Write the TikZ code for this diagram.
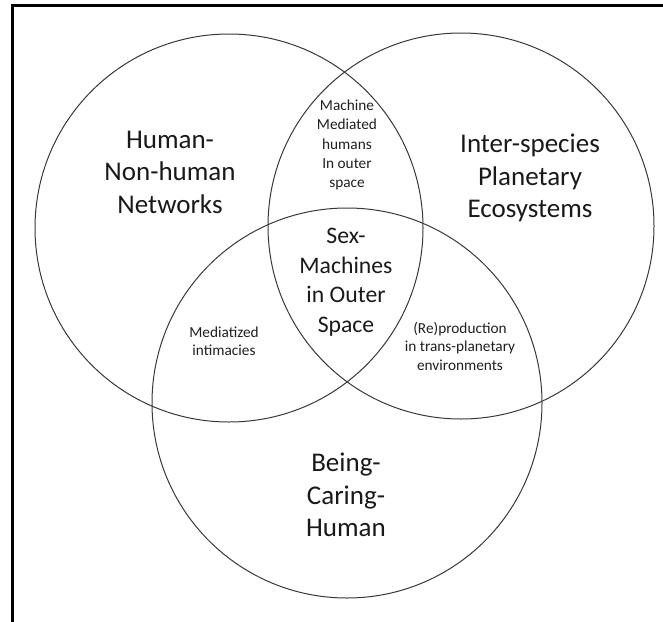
\documentclass[tikz,border=0pt]{standalone}
\usepackage{fontspec}
\setmainfont{Carlito}
\begin{document}
\begin{tikzpicture}[x=1pt,y=-1pt,
  ring/.style={circle, draw=black!78, line width=1pt, inner sep=0pt, outer sep=0pt},
  setlabel/.style={align=center, font=\fontsize{27}{32.5}\selectfont, text=black!90, inner sep=0pt},
  biglabel/.style={align=center, font=\fontsize{23.7}{29.5}\selectfont, text=black!90, inner sep=0pt},
  smalllabel/.style={align=center, font=\fontsize{15.3}{18.5}\selectfont, text=black!88, inner sep=0pt},
  frameline/.style={draw=black, line width=3pt, line join=miter}]
\useasboundingbox (0,0) rectangle (663,621);

% page frame (left and top edges)
\coordinate (frameBottom) at (12,625);
\coordinate (frameCorner) at (12,5);
\coordinate (frameRight) at (667,5);
\draw[frameline] (frameBottom) -- (frameCorner) -- (frameRight);

% the three sets
\node[ring, minimum size=388pt] (networks) at (229,228) {};
\node[ring, minimum size=386pt] (ecosystems) at (461,226) {};
\node[ring, minimum size=390pt] (caring) at (347,403) {};

% set labels
\node[setlabel] (networksLabel) at (170,172) {Human-\\Non-human\\Networks};
\node[setlabel] (ecosystemsLabel) at (530,178) {Inter-species\\Planetary\\Ecosystems};
\node[setlabel] (caringLabel) at (346,495) {Being-\\Caring-\\Human};

% centre of all three
\node[biglabel] (centreLabel) at (346,282) {Sex-\\Machines\\in Outer\\Space};

% pairwise overlaps
\node[smalllabel, font=\fontsize{15.3}{19.3}\selectfont] (topLabel) at (347,145)
  {Machine\\Mediated\\humans\\In outer\hspace{0.8em}\\space};
\node[smalllabel] (leftLabel) at (224,341) {Mediatized\\intimacies};
\node[smalllabel] (rightLabel) at (460,346) {(Re)production\\in trans-planetary\\environments};
\end{tikzpicture}
\end{document}
